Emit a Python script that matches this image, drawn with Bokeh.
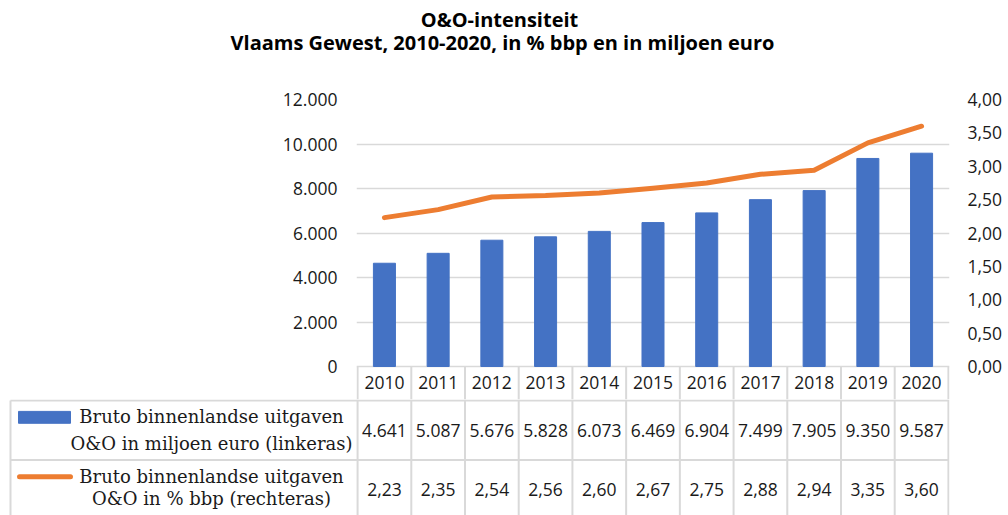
from bokeh.plotting import figure
from bokeh.models import (ColumnDataSource, Range1d, LinearAxis, FixedTicker,
                          CustomJSTickFormatter)
from bokeh.layouts import column
from bokeh.core.properties import value
from bokeh.embed import file_html
from bokeh.resources import INLINE

# ---------------- data ----------------
years = ["2010", "2011", "2012", "2013", "2014", "2015", "2016", "2017", "2018", "2019", "2020"]
uitgaven = [4641, 5087, 5676, 5828, 6073, 6469, 6904, 7499, 7905, 9350, 9587]      # miljoen euro
intensiteit = [2.23, 2.35, 2.54, 2.56, 2.60, 2.67, 2.75, 2.88, 2.94, 3.35, 3.60]    # % bbp
left_ticks = [0, 2000, 4000, 6000, 8000, 10000, 12000]
right_ticks = [0, 0.5, 1.0, 1.5, 2.0, 2.5, 3.0, 3.5, 4.0]
title_1 = "O&O-intensiteit"
title_2 = "Vlaams Gewest, 2010-2020, in % bbp en in miljoen euro"
legend_bar = ["Bruto binnenlandse uitgaven", "O&O in miljoen euro (linkeras)"]
legend_line = ["Bruto binnenlandse uitgaven", "O&O in % bbp (rechteras)"]

BLUE = "#4472C4"
ORANGE = "#ED7D31"
GRID = "#d9d9d9"
TXT = "#1a1a1a"
NUMFONT = "Open Sans"
SERIF = "DejaVu Serif"
NUMSIZE = "17.5px"

n = len(years)
xs = list(range(n))
LMAX, RMAX = left_ticks[-1], right_ticks[-1]

# layout (pixels)
W = 1008
H0 = 83               # title band
PAD_TOP = 16          # room above the value area for the top tick labels
PLOT_H = 267          # value area height
YEAR_H = 33           # year row height below the value area
H1 = PAD_TOP + PLOT_H + YEAR_H
H2 = 116
BL, BR = 356, 59      # left / right borders of the value area
XPAD = 0.02


def blank(fig):
    fig.outline_line_color = None
    fig.background_fill_color = "white"
    fig.border_fill_color = "white"
    fig.frame_align = False


# ---------------- title band ----------------
h = figure(width=W, height=H0, output_backend="svg", toolbar_location=None,
           x_range=Range1d(0, W), y_range=Range1d(H0, 0),
           min_border=0, x_axis_location=None, y_axis_location=None)
blank(h)
h.grid.visible = False
h.text(x=[499, 502], y=[19, 42], text=[title_1, title_2], text_align="center",
       text_baseline="middle", text_font=value(NUMFONT), text_font_size="20px",
       text_font_style="bold", text_color="black")

# ---------------- chart (with year row) ----------------
y_lo = -LMAX * YEAR_H / PLOT_H
p = figure(width=W, height=H1, output_backend="svg", toolbar_location=None,
           x_range=Range1d(-0.5 - XPAD, n - 0.5 + XPAD), y_range=Range1d(y_lo, LMAX),
           min_border_left=BL, min_border_right=BR, min_border_top=PAD_TOP,
           min_border_bottom=0, x_axis_location=None, title=None)
blank(p)
p.xgrid.visible = False
p.extra_y_ranges = {"pct": Range1d(-RMAX * YEAR_H / PLOT_H, RMAX)}

yax = p.yaxis[0]
yax.ticker = FixedTicker(ticks=left_ticks)
yax.formatter = CustomJSTickFormatter(code="return tick.toFixed(0).replace(/\\B(?=(\\d{3})+(?!\\d))/g, '.');")
p.ygrid.ticker = FixedTicker(ticks=left_ticks)
p.ygrid.grid_line_color = GRID
p.ygrid.grid_line_width = 1.5

rax = LinearAxis(y_range_name="pct", ticker=FixedTicker(ticks=right_ticks),
                 formatter=CustomJSTickFormatter(code="return tick.toFixed(2).replace('.', ',');"))
p.add_layout(rax, "right")

for ax, so in ((yax, 19), (rax, 18)):
    ax.axis_line_color = None
    ax.major_tick_line_color = None
    ax.minor_tick_line_color = None
    ax.major_tick_out = 0
    ax.major_tick_in = 0
    ax.major_label_standoff = so
    ax.major_label_text_font = NUMFONT
    ax.major_label_text_font_size = NUMSIZE
    ax.major_label_text_color = TXT

src = ColumnDataSource(dict(x=xs, b=uitgaven, pct=intensiteit))
p.vbar(x="x", top="b", width=0.41, bottom=0, source=src, color=BLUE)
p.line(x="x", y="pct", source=src, y_range_name="pct", line_color=ORANGE,
       line_width=5, line_cap="round", line_join="round")

# year row of the data table
bx = [i - 0.5 for i in range(n + 1)]
p.segment(x0=bx, x1=bx, y0=[0] * len(bx), y1=[y_lo] * len(bx), line_color=GRID, line_width=2)
p.text(x=xs, y=[y_lo / 2 + LMAX * 0.5 / PLOT_H] * n, text=years, text_align="center",
       text_baseline="middle", text_font=value(NUMFONT), text_font_size=NUMSIZE, text_color=TXT)

# ---------------- data table rows ----------------
units_per_px = (n + 2 * XPAD) / (W - BL - BR)
x0 = (n - 0.5 + XPAD) - (W - BR) * units_per_px

t = figure(width=W, height=H2, output_backend="svg", toolbar_location=None,
           x_range=Range1d(x0, n - 0.5 + XPAD), y_range=Range1d(H2, -1),
           min_border_left=0, min_border_right=BR, min_border_top=0, min_border_bottom=0,
           x_axis_location=None, y_axis_location=None)
blank(t)
t.grid.visible = False

ROW = 60
left_edge = x0 + 10 * units_per_px
t.segment(x0=bx, x1=bx, y0=[-1] * len(bx), y1=[H2 + 5] * len(bx), line_color=GRID, line_width=2)
t.segment(x0=[left_edge], x1=[left_edge], y0=[0], y1=[H2 + 5], line_color=GRID, line_width=2)
t.segment(x0=[left_edge] * 2, x1=[n - 0.5] * 2, y0=[0, ROW], y1=[0, ROW],
          line_color=GRID, line_width=2)

fmt_b = lambda v: f"{v:,}".replace(",", ".")
fmt_p = lambda v: f"{v:.2f}".replace(".", ",")

tsrc = ColumnDataSource(dict(
    x=xs * 2,
    y=[ROW / 2] * n + [ROW * 1.5] * n,
    s=[fmt_b(v) for v in uitgaven] + [fmt_p(v) for v in intensiteit]))
t.text(x="x", y="y", text="s", source=tsrc, text_align="center", text_baseline="middle",
       text_font=value(NUMFONT), text_font_size=NUMSIZE, text_color=TXT)

# legend keys
t.rect(x=[x0 + 44 * units_per_px], y=[17], width=52 * units_per_px, height=12, color=BLUE)
t.segment(x0=[x0 + 19 * units_per_px], x1=[x0 + 70 * units_per_px], y0=[77], y1=[77],
          line_color=ORANGE, line_width=5, line_cap="round")

lx = x0 + 211 * units_per_px
lsrc = ColumnDataSource(dict(x=[lx] * 4, y=[16, 43, 77, 99], s=legend_bar + legend_line))
t.text(x="x", y="y", text="s", source=lsrc, text_align="center", text_baseline="middle",
       text_font=value(SERIF), text_font_size="18px", text_color=TXT)

layout = column(h, p, t, spacing=0)
open("out.html", "w").write(file_html(layout, INLINE))
